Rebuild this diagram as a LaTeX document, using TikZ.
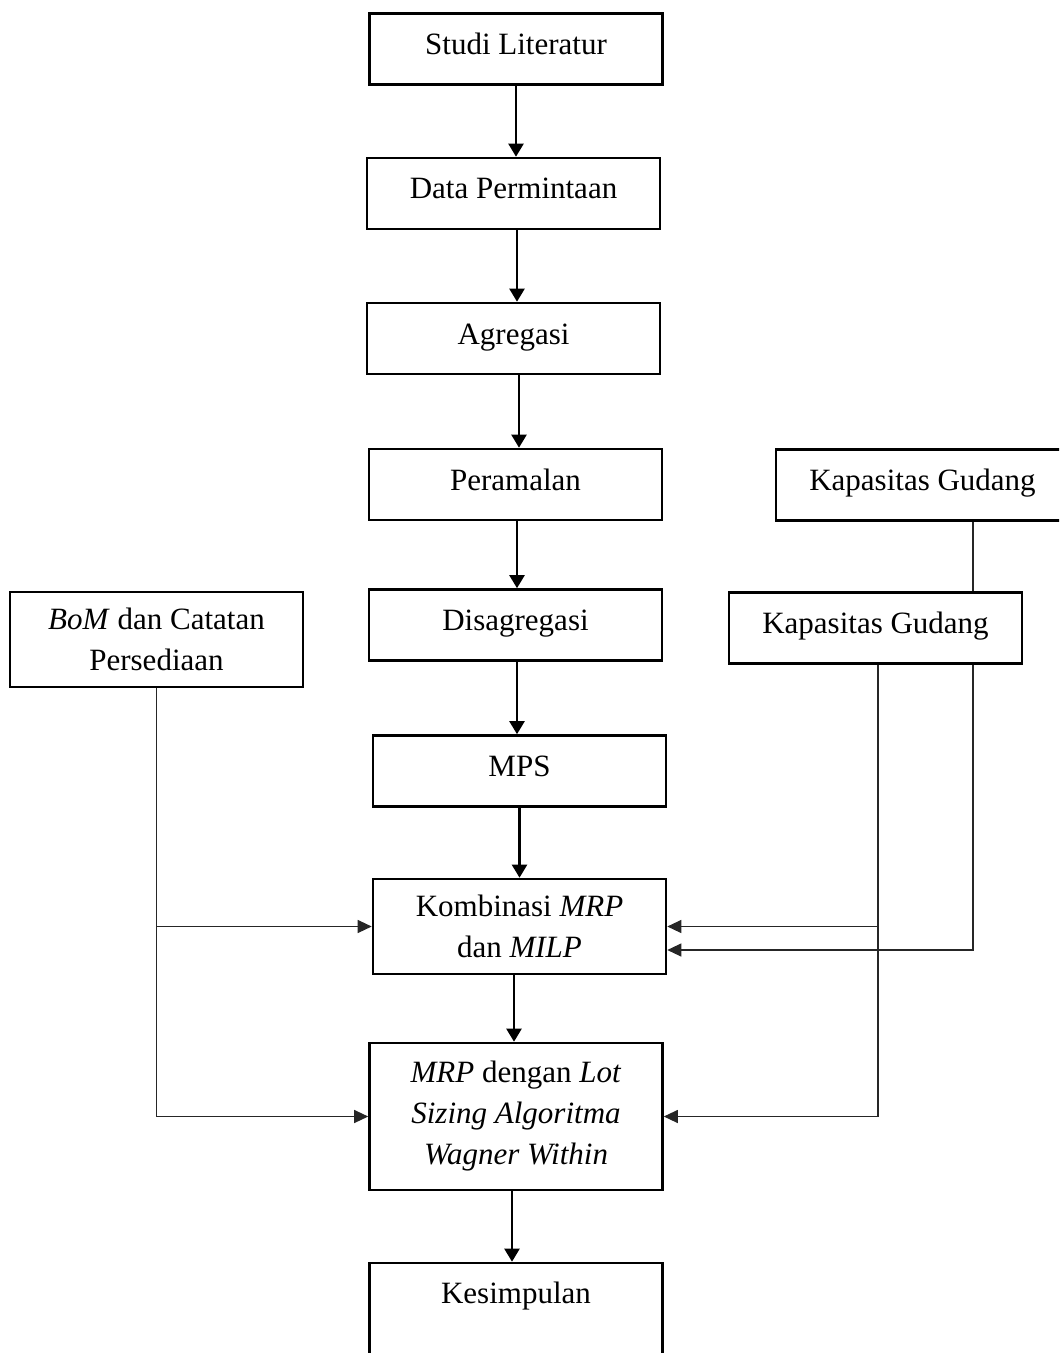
\documentclass[tikz,border=0pt]{standalone}
\usepackage{fontspec}
\setmainfont{Liberation Serif}
\usetikzlibrary{arrows.meta,calc,positioning}

\begin{document}
\begin{tikzpicture}[x=0.5pt, y=-0.5pt,
    stepbox/.style = {draw, line width=1.3pt, minimum width=146.5pt, align=center,
      font=\fontsize{15.5}{20.5}\selectfont},
    onebox/.style = {stepbox, minimum height=35.5pt, text height=10.5pt, text depth=5pt},
    flow/.style = {line width=1.1pt, -{Triangle[length=6.5pt, width=7.5pt]}},
    link/.style = {line width=0.6pt, black!85},
    linkarrow/.style = {link, -{Triangle[length=7pt, width=6.5pt]}}]
  \clip (0,0) rectangle (1059,1353);

  % main column
  \node (studi) [onebox] at (516,49) {Studi Literatur};
  \node (data) [onebox] at (513.5,193.5) {Data Permintaan};
  \node (agregasi) [onebox] at (513.5,338.5) {Agregasi};
  \node (peramalan) [onebox] at (515.5,484.5) {Peramalan};
  \node (disagregasi) [onebox] at (515.5,625) {Disagregasi};
  \node (mps) [onebox] at (519.5,771) {MPS};
  \node (kombinasi) [stepbox, minimum height=47.5pt] at (519.5,926.5) {Kombinasi \textit{MRP}\\dan \textit{MILP}};
  \node (mrp) [stepbox, minimum height=73.5pt] at (516,1116.5) {\textit{MRP} dengan \textit{Lot}\\\textit{Sizing Algoritma}\\\textit{Wagner Within}};
  \node (kesimpulan) [onebox, minimum height=65pt, text depth=35.5pt] at (516,1328) {Kesimpulan};

  % side inputs
  \node (bom) [stepbox, minimum height=47.5pt] at (156.5,639.5) {\textit{BoM} dan Catatan\\Persediaan};
  \node (kap1) [onebox] at (922.5,485) {Kapasitas Gudang};
  \node (kap2) [onebox] at (875.5,628) {Kapasitas Gudang};

  \coordinate (kx) at (878,0);
  \coordinate (gx) at (973,0);

  \draw[flow] (studi.south) -- (studi.south |- data.north);
  \draw[flow] ([xshift=1.75pt]data.south) -- ([xshift=1.75pt]data.south |- agregasi.north);
  \draw[flow] ([xshift=2.75pt]agregasi.south) -- ([xshift=2.75pt]agregasi.south |- peramalan.north);
  \draw[flow] ([xshift=0.75pt]peramalan.south) -- ([xshift=0.75pt]peramalan.south |- disagregasi.north);
  \draw[flow] ([xshift=0.75pt]disagregasi.south) -- ([xshift=0.75pt]disagregasi.south |- mps.north);
  \draw[flow] (mps.south) -- (mps.south |- kombinasi.north);
  \draw[flow] ([xshift=-2.75pt]kombinasi.south) -- ([xshift=-2.75pt]kombinasi.south |- mrp.north);
  \draw[flow] ([xshift=-2pt]mrp.south) -- ([xshift=-2pt]mrp.south |- kesimpulan.north);

  \draw[linkarrow] (bom.south) |- (kombinasi.west);
  \draw[linkarrow] (bom.south) |- (mrp.west);

  \draw[link] (kap1.south -| gx) -- (kap2.north -| gx);
  \draw[linkarrow] (kap2.south -| kx) |- (kombinasi.east);
  \draw[linkarrow] (kap2.south -| kx) |- (mrp.east);
  \draw[linkarrow] (kap2.south -| gx) |- ($(kombinasi.east)+(0,23.5)$);
\end{tikzpicture}
\end{document}
